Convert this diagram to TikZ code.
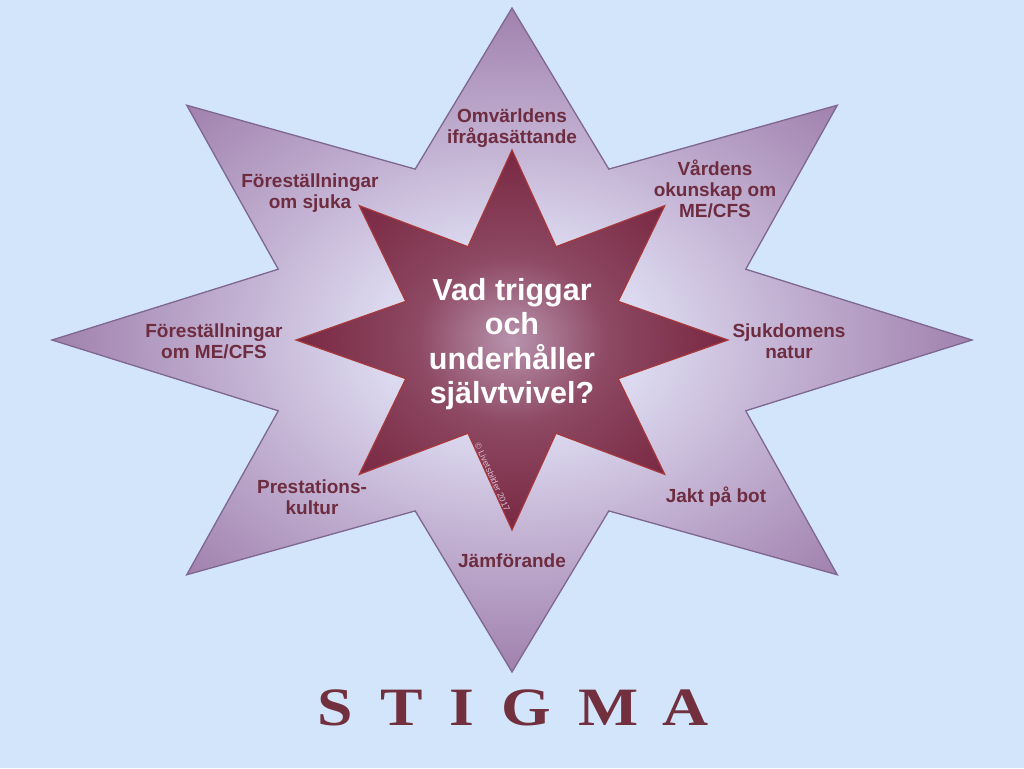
\documentclass[tikz,border=0pt]{standalone}
\usepackage{fontspec}
\setmainfont{Liberation Sans}
\newfontfamily\stigmafont[FakeStretch=1.18]{Liberation Serif}
\definecolor{bgblue}{HTML}{D3E5FB}
\definecolor{oc1}{HTML}{DCDAF0}
\definecolor{oc2}{HTML}{C6B6D6}
\definecolor{oc3}{HTML}{A081AD}
\definecolor{outerline}{HTML}{7E6790}
\definecolor{ic1}{HTML}{B893AE}
\definecolor{ic2}{HTML}{8E4963}
\definecolor{ic3}{HTML}{792842}
\definecolor{innerline}{HTML}{A8393B}
\definecolor{labelred}{HTML}{6E2C40}
\definecolor{stigmared}{HTML}{72303F}
\definecolor{copyc}{HTML}{DDBDD0}
\pgfdeclareradialshading{outerglow}{\pgfpoint{0bp}{0bp}}{color(0bp)=(oc1); color(7bp)=(oc1); color(14bp)=(oc2); color(25bp)=(oc3); color(50bp)=(oc3)}
\pgfdeclareradialshading{innerglow}{\pgfpoint{0bp}{0bp}}{color(0bp)=(ic1); color(11bp)=(ic2); color(25bp)=(ic3); color(50bp)=(ic3)}
\newcommand{\lbl}[1]{\begin{tabular}[t]{@{}c@{}}#1\end{tabular}}
\tikzset{
  steplabel/.style={anchor=base, inner sep=0pt, text=labelred,
    font=\bfseries\fontsize{19}{21}\selectfont},
  centerlabel/.style={anchor=base, inner sep=0pt, text=white,
    font=\bfseries\fontsize{30.5}{34}\selectfont},
}
\begin{document}
\begin{tikzpicture}[x=1pt,y=-1pt]
\useasboundingbox (0,0) rectangle (1024,768);
\fill[bgblue] (0,0) rectangle (1024,768);

\begin{scope}[shift={(512,340)}]
\shadedraw[shading=outerglow, draw=outerline, line width=1.3pt, line join=miter]
  (90:460 and 332)
  \foreach \i [evaluate=\i as \rx using {mod(\i,2)==0?460:253},
               evaluate=\i as \ry using {mod(\i,2)==0?332:185}] in {1,...,15}
  { -- ({90+22.5*\i}:{\rx} and {\ry}) } -- cycle;
\shadedraw[shading=innerglow, draw=innerline, line width=1.2pt, line join=miter]
  (90:216 and 190)
  \foreach \i [evaluate=\i as \rx using {mod(\i,2)==0?216:115},
               evaluate=\i as \ry using {mod(\i,2)==0?190:101}] in {1,...,15}
  { -- ({90+22.5*\i}:{\rx} and {\ry}) } -- cycle;
\end{scope}

\node[centerlabel] (center) at (512,300) {\lbl{Vad triggar\\och\\underhåller\\självtvivel?}};

\node[steplabel] (omv) at (512,122) {\lbl{Omvärldens\\ifrågasättande}};
\node[steplabel] (fsj) at (310,187) {\lbl{Föreställningar\\om sjuka}};
\node[steplabel] (vard) at (715,175) {\lbl{Vårdens\\okunskap om\\ME/CFS}};
\node[steplabel] (fme) at (214,337) {\lbl{Föreställningar\\om ME/CFS}};
\node[steplabel] (sjuk) at (789,337) {\lbl{Sjukdomens\\natur}};
\node[steplabel] (prest) at (312,493) {\lbl{Prestations-\\kultur}};
\node[steplabel] (jakt) at (716,502) {Jakt på bot};
\node[steplabel] (jamf) at (512,567) {Jämförande};

\node[text=copyc, font=\fontsize{8.6}{9}\selectfont, rotate=-65.7, inner sep=0pt] (copy) at (492.5,477) {© Livetsbilder 2017};

\node[anchor=base, inner sep=0pt, text=stigmared, font=\stigmafont\bfseries\fontsize{54}{60}\selectfont] (stigma) at (513,725)
  {S\kern27pt T\kern27pt I\kern27pt G\kern27pt M\kern24pt A};
\end{tikzpicture}
\end{document}
